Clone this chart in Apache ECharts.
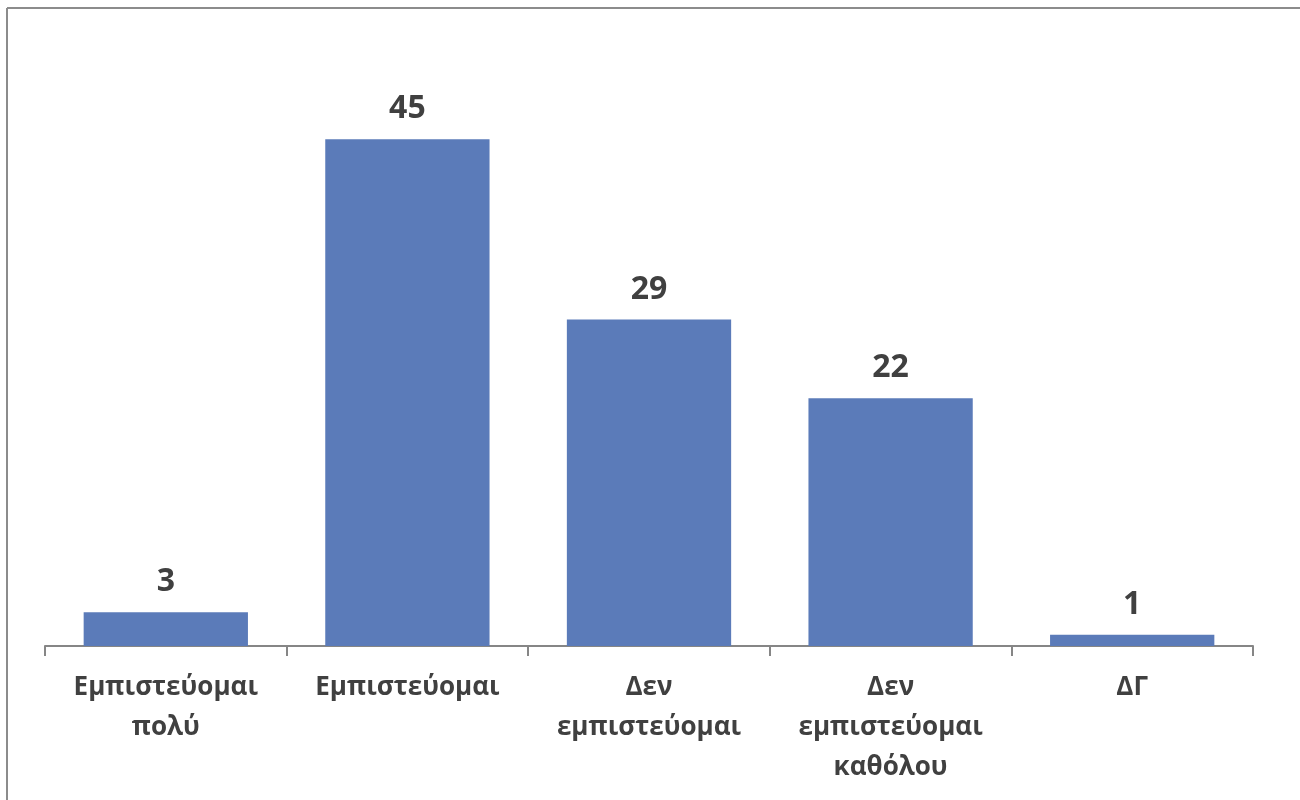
<!DOCTYPE html>
<html><head><meta charset="utf-8">
<script src="https://cdn.jsdelivr.net/npm/echarts@6/dist/echarts.min.js"></script>
<style>html,body{margin:0;padding:0;background:#fff}#c{width:1300px;height:800px}</style>
</head><body><div id="c"></div>
<script>
const categories = ['Εμπιστεύομαι\nπολύ', 'Εμπιστεύομαι', 'Δεν\nεμπιστεύομαι', 'Δεν\nεμπιστεύομαι\nκαθόλου', 'ΔΓ'];
const values = [3, 45, 29, 22, 1];

const chart = echarts.init(document.getElementById('c'));
chart.setOption({
  animation: false,
  backgroundColor: '#ffffff',
  grid: { left: 45, right: 47, top: 83, bottom: 154, containLabel: false },
  graphic: [
    { type: 'line', shape: { x1: 7, y1: 8, x2: 1300, y2: 8 }, style: { stroke: '#8c8c8c', lineWidth: 2 } },
    { type: 'line', shape: { x1: 7, y1: 8, x2: 7, y2: 800 }, style: { stroke: '#8c8c8c', lineWidth: 2 } }
  ],
  xAxis: {
    type: 'category',
    data: categories,
    axisLine: { lineStyle: { color: '#868686', width: 2 } },
    axisTick: { show: true, length: 10, lineStyle: { color: '#868686', width: 2 } },
    axisLabel: {
      interval: 0, margin: 22, color: '#404040', fontSize: 26, fontWeight: 'bold',
      fontFamily: 'Open Sans', lineHeight: 40
    }
  },
  yAxis: {
    type: 'value', min: 0, max: 50, show: false, splitLine: { show: false }
  },
  series: [{
    type: 'bar',
    data: values,
    barCategoryGap: '32%',
    itemStyle: { color: '#5b7bb9' },
    label: {
      show: true, position: 'top', distance: 14, color: '#404040',
      fontSize: 32, fontWeight: 'bold', fontFamily: 'Open Sans'
    }
  }]
});
</script></body></html>
